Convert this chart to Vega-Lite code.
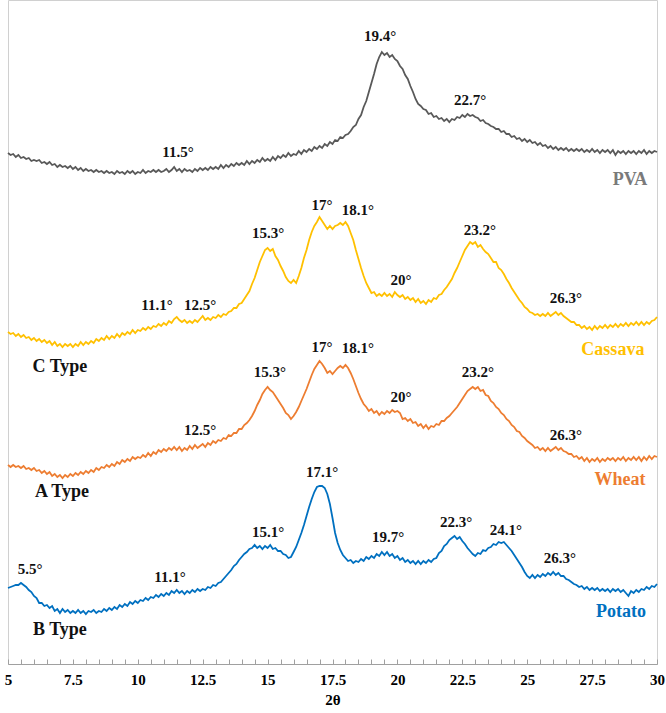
{
  "$schema": "https://vega.github.io/schema/vega-lite/v6.json",
  "width": 649,
  "height": 664,
  "autosize": {"type": "none"},
  "padding": {"left": 8, "top": 0, "right": 9, "bottom": 49},
  "background": "white",
  "config": {
    "view": {"stroke": "#d0d0d0", "strokeWidth": 1},
    "font": "Liberation Serif"
  },
  "datasets": {
    "xrd": [
      {"theta":5.0,"PVA":511,"Cassava":332,"Wheat":199,"Potato":76},
      {"theta":5.1,"PVA":509,"Cassava":330,"Wheat":197,"Potato":77},
      {"theta":5.2,"PVA":510,"Cassava":331,"Wheat":199,"Potato":78},
      {"theta":5.3,"PVA":507,"Cassava":328,"Wheat":197,"Potato":79},
      {"theta":5.4,"PVA":509,"Cassava":330,"Wheat":198,"Potato":79},
      {"theta":5.5,"PVA":506,"Cassava":327,"Wheat":196,"Potato":81},
      {"theta":5.6,"PVA":507,"Cassava":329,"Wheat":198,"Potato":79},
      {"theta":5.7,"PVA":505,"Cassava":326,"Wheat":195,"Potato":77},
      {"theta":5.8,"PVA":506,"Cassava":327,"Wheat":196,"Potato":74},
      {"theta":5.9,"PVA":503,"Cassava":324,"Wheat":194,"Potato":72},
      {"theta":6.0,"PVA":504,"Cassava":326,"Wheat":196,"Potato":68},
      {"theta":6.1,"PVA":503,"Cassava":323,"Wheat":193,"Potato":66},
      {"theta":6.2,"PVA":504,"Cassava":325,"Wheat":194,"Potato":61},
      {"theta":6.3,"PVA":501,"Cassava":322,"Wheat":191,"Potato":61},
      {"theta":6.4,"PVA":502,"Cassava":324,"Wheat":193,"Potato":58},
      {"theta":6.5,"PVA":500,"Cassava":321,"Wheat":190,"Potato":59},
      {"theta":6.6,"PVA":502,"Cassava":323,"Wheat":192,"Potato":56},
      {"theta":6.7,"PVA":499,"Cassava":319,"Wheat":188,"Potato":58},
      {"theta":6.8,"PVA":500,"Cassava":322,"Wheat":190,"Potato":53},
      {"theta":6.9,"PVA":497,"Cassava":318,"Wheat":187,"Potato":55},
      {"theta":7.0,"PVA":499,"Cassava":320,"Wheat":189,"Potato":51},
      {"theta":7.1,"PVA":497,"Cassava":317,"Wheat":186,"Potato":55},
      {"theta":7.2,"PVA":498,"Cassava":320,"Wheat":189,"Potato":52},
      {"theta":7.3,"PVA":496,"Cassava":318,"Wheat":187,"Potato":54},
      {"theta":7.4,"PVA":498,"Cassava":320,"Wheat":190,"Potato":51},
      {"theta":7.5,"PVA":495,"Cassava":317,"Wheat":188,"Potato":53},
      {"theta":7.6,"PVA":497,"Cassava":320,"Wheat":191,"Potato":51},
      {"theta":7.7,"PVA":494,"Cassava":318,"Wheat":189,"Potato":54},
      {"theta":7.8,"PVA":496,"Cassava":322,"Wheat":192,"Potato":51},
      {"theta":7.9,"PVA":493,"Cassava":319,"Wheat":190,"Potato":53},
      {"theta":8.0,"PVA":495,"Cassava":322,"Wheat":193,"Potato":50},
      {"theta":8.1,"PVA":493,"Cassava":320,"Wheat":191,"Potato":53},
      {"theta":8.2,"PVA":494,"Cassava":323,"Wheat":194,"Potato":52},
      {"theta":8.3,"PVA":492,"Cassava":321,"Wheat":192,"Potato":54},
      {"theta":8.4,"PVA":494,"Cassava":325,"Wheat":196,"Potato":51},
      {"theta":8.5,"PVA":492,"Cassava":323,"Wheat":194,"Potato":53},
      {"theta":8.6,"PVA":493,"Cassava":326,"Wheat":197,"Potato":52},
      {"theta":8.7,"PVA":491,"Cassava":324,"Wheat":196,"Potato":55},
      {"theta":8.8,"PVA":493,"Cassava":328,"Wheat":199,"Potato":53},
      {"theta":8.9,"PVA":491,"Cassava":325,"Wheat":197,"Potato":56},
      {"theta":9.0,"PVA":492,"Cassava":328,"Wheat":200,"Potato":54},
      {"theta":9.1,"PVA":490,"Cassava":326,"Wheat":198,"Potato":57},
      {"theta":9.2,"PVA":493,"Cassava":330,"Wheat":202,"Potato":55},
      {"theta":9.3,"PVA":491,"Cassava":327,"Wheat":200,"Potato":59},
      {"theta":9.4,"PVA":492,"Cassava":331,"Wheat":204,"Potato":57},
      {"theta":9.5,"PVA":490,"Cassava":329,"Wheat":202,"Potato":60},
      {"theta":9.6,"PVA":493,"Cassava":332,"Wheat":205,"Potato":58},
      {"theta":9.7,"PVA":491,"Cassava":330,"Wheat":203,"Potato":62},
      {"theta":9.8,"PVA":493,"Cassava":334,"Wheat":207,"Potato":60},
      {"theta":9.9,"PVA":490,"Cassava":331,"Wheat":205,"Potato":63},
      {"theta":10.0,"PVA":492,"Cassava":334,"Wheat":207,"Potato":61},
      {"theta":10.1,"PVA":491,"Cassava":333,"Wheat":206,"Potato":64},
      {"theta":10.2,"PVA":494,"Cassava":336,"Wheat":209,"Potato":63},
      {"theta":10.3,"PVA":491,"Cassava":334,"Wheat":207,"Potato":66},
      {"theta":10.4,"PVA":493,"Cassava":337,"Wheat":211,"Potato":64},
      {"theta":10.5,"PVA":492,"Cassava":335,"Wheat":208,"Potato":67},
      {"theta":10.6,"PVA":494,"Cassava":338,"Wheat":212,"Potato":66},
      {"theta":10.7,"PVA":492,"Cassava":337,"Wheat":210,"Potato":69},
      {"theta":10.8,"PVA":494,"Cassava":340,"Wheat":214,"Potato":67},
      {"theta":10.9,"PVA":492,"Cassava":338,"Wheat":212,"Potato":70},
      {"theta":11.0,"PVA":493,"Cassava":341,"Wheat":215,"Potato":68},
      {"theta":11.1,"PVA":495,"Cassava":339,"Wheat":213,"Potato":71},
      {"theta":11.2,"PVA":492,"Cassava":343,"Wheat":216,"Potato":69},
      {"theta":11.3,"PVA":494,"Cassava":341,"Wheat":214,"Potato":73},
      {"theta":11.4,"PVA":497,"Cassava":345,"Wheat":217,"Potato":71},
      {"theta":11.5,"PVA":493,"Cassava":347,"Wheat":214,"Potato":74},
      {"theta":11.6,"PVA":495,"Cassava":344,"Wheat":217,"Potato":71},
      {"theta":11.7,"PVA":492,"Cassava":342,"Wheat":213,"Potato":73},
      {"theta":11.8,"PVA":495,"Cassava":344,"Wheat":216,"Potato":70},
      {"theta":11.9,"PVA":493,"Cassava":341,"Wheat":214,"Potato":73},
      {"theta":12.0,"PVA":494,"Cassava":343,"Wheat":218,"Potato":71},
      {"theta":12.1,"PVA":492,"Cassava":341,"Wheat":215,"Potato":74},
      {"theta":12.2,"PVA":495,"Cassava":344,"Wheat":219,"Potato":72},
      {"theta":12.3,"PVA":493,"Cassava":342,"Wheat":216,"Potato":75},
      {"theta":12.4,"PVA":496,"Cassava":345,"Wheat":218,"Potato":73},
      {"theta":12.5,"PVA":494,"Cassava":348,"Wheat":220,"Potato":75},
      {"theta":12.6,"PVA":496,"Cassava":344,"Wheat":217,"Potato":74},
      {"theta":12.7,"PVA":494,"Cassava":346,"Wheat":221,"Potato":77},
      {"theta":12.8,"PVA":497,"Cassava":344,"Wheat":219,"Potato":76},
      {"theta":12.9,"PVA":495,"Cassava":347,"Wheat":223,"Potato":79},
      {"theta":13.0,"PVA":497,"Cassava":346,"Wheat":221,"Potato":78},
      {"theta":13.1,"PVA":495,"Cassava":349,"Wheat":224,"Potato":81},
      {"theta":13.2,"PVA":499,"Cassava":347,"Wheat":223,"Potato":82},
      {"theta":13.3,"PVA":496,"Cassava":350,"Wheat":226,"Potato":85},
      {"theta":13.4,"PVA":499,"Cassava":349,"Wheat":225,"Potato":88},
      {"theta":13.5,"PVA":497,"Cassava":352,"Wheat":229,"Potato":91},
      {"theta":13.6,"PVA":500,"Cassava":353,"Wheat":228,"Potato":94},
      {"theta":13.7,"PVA":498,"Cassava":356,"Wheat":231,"Potato":98},
      {"theta":13.8,"PVA":501,"Cassava":356,"Wheat":231,"Potato":100},
      {"theta":13.9,"PVA":499,"Cassava":360,"Wheat":235,"Potato":104},
      {"theta":14.0,"PVA":501,"Cassava":361,"Wheat":235,"Potato":107},
      {"theta":14.1,"PVA":499,"Cassava":365,"Wheat":239,"Potato":110},
      {"theta":14.2,"PVA":503,"Cassava":369,"Wheat":241,"Potato":112},
      {"theta":14.3,"PVA":500,"Cassava":373,"Wheat":244,"Potato":115},
      {"theta":14.4,"PVA":503,"Cassava":380,"Wheat":248,"Potato":116},
      {"theta":14.5,"PVA":501,"Cassava":386,"Wheat":253,"Potato":119},
      {"theta":14.6,"PVA":504,"Cassava":394,"Wheat":259,"Potato":116},
      {"theta":14.7,"PVA":502,"Cassava":402,"Wheat":264,"Potato":118},
      {"theta":14.8,"PVA":506,"Cassava":408,"Wheat":270,"Potato":115},
      {"theta":14.9,"PVA":503,"Cassava":414,"Wheat":274,"Potato":118},
      {"theta":15.0,"PVA":505,"Cassava":416,"Wheat":277,"Potato":116},
      {"theta":15.1,"PVA":503,"Cassava":413,"Wheat":274,"Potato":119},
      {"theta":15.2,"PVA":507,"Cassava":415,"Wheat":272,"Potato":115},
      {"theta":15.3,"PVA":504,"Cassava":408,"Wheat":268,"Potato":116},
      {"theta":15.4,"PVA":508,"Cassava":404,"Wheat":264,"Potato":113},
      {"theta":15.5,"PVA":506,"Cassava":398,"Wheat":260,"Potato":113},
      {"theta":15.6,"PVA":509,"Cassava":393,"Wheat":256,"Potato":110},
      {"theta":15.7,"PVA":507,"Cassava":387,"Wheat":251,"Potato":109},
      {"theta":15.8,"PVA":511,"Cassava":383,"Wheat":249,"Potato":106},
      {"theta":15.9,"PVA":508,"Cassava":381,"Wheat":245,"Potato":107},
      {"theta":16.0,"PVA":510,"Cassava":384,"Wheat":248,"Potato":112},
      {"theta":16.1,"PVA":509,"Cassava":381,"Wheat":252,"Potato":117},
      {"theta":16.2,"PVA":513,"Cassava":388,"Wheat":257,"Potato":124},
      {"theta":16.3,"PVA":510,"Cassava":396,"Wheat":263,"Potato":131},
      {"theta":16.4,"PVA":514,"Cassava":406,"Wheat":269,"Potato":139},
      {"theta":16.5,"PVA":512,"Cassava":414,"Wheat":275,"Potato":148},
      {"theta":16.6,"PVA":515,"Cassava":424,"Wheat":282,"Potato":157},
      {"theta":16.7,"PVA":513,"Cassava":432,"Wheat":289,"Potato":165},
      {"theta":16.8,"PVA":517,"Cassava":438,"Wheat":295,"Potato":172},
      {"theta":16.9,"PVA":515,"Cassava":442,"Wheat":299,"Potato":177},
      {"theta":17.0,"PVA":518,"Cassava":447,"Wheat":303,"Potato":178},
      {"theta":17.1,"PVA":516,"Cassava":443,"Wheat":300,"Potato":178},
      {"theta":17.2,"PVA":520,"Cassava":439,"Wheat":296,"Potato":176},
      {"theta":17.3,"PVA":518,"Cassava":435,"Wheat":291,"Potato":170},
      {"theta":17.4,"PVA":522,"Cassava":438,"Wheat":293,"Potato":160},
      {"theta":17.5,"PVA":520,"Cassava":435,"Wheat":290,"Potato":146},
      {"theta":17.6,"PVA":524,"Cassava":438,"Wheat":293,"Potato":131},
      {"theta":17.7,"PVA":523,"Cassava":439,"Wheat":296,"Potato":121},
      {"theta":17.8,"PVA":527,"Cassava":441,"Wheat":298,"Potato":114},
      {"theta":17.9,"PVA":526,"Cassava":439,"Wheat":296,"Potato":109},
      {"theta":18.0,"PVA":529,"Cassava":442,"Wheat":299,"Potato":106},
      {"theta":18.1,"PVA":530,"Cassava":438,"Wheat":296,"Potato":103},
      {"theta":18.2,"PVA":533,"Cassava":431,"Wheat":291,"Potato":104},
      {"theta":18.3,"PVA":537,"Cassava":424,"Wheat":285,"Potato":101},
      {"theta":18.4,"PVA":539,"Cassava":414,"Wheat":278,"Potato":103},
      {"theta":18.5,"PVA":545,"Cassava":405,"Wheat":271,"Potato":102},
      {"theta":18.6,"PVA":549,"Cassava":396,"Wheat":265,"Potato":105},
      {"theta":18.7,"PVA":557,"Cassava":388,"Wheat":260,"Potato":103},
      {"theta":18.8,"PVA":563,"Cassava":381,"Wheat":257,"Potato":107},
      {"theta":18.9,"PVA":572,"Cassava":376,"Wheat":253,"Potato":105},
      {"theta":19.0,"PVA":581,"Cassava":371,"Wheat":255,"Potato":108},
      {"theta":19.1,"PVA":590,"Cassava":372,"Wheat":251,"Potato":106},
      {"theta":19.2,"PVA":600,"Cassava":368,"Wheat":253,"Potato":110},
      {"theta":19.3,"PVA":607,"Cassava":370,"Wheat":249,"Potato":108},
      {"theta":19.4,"PVA":612,"Cassava":368,"Wheat":252,"Potato":112},
      {"theta":19.5,"PVA":609,"Cassava":371,"Wheat":250,"Potato":109},
      {"theta":19.6,"PVA":611,"Cassava":368,"Wheat":253,"Potato":112},
      {"theta":19.7,"PVA":607,"Cassava":370,"Wheat":251,"Potato":108},
      {"theta":19.8,"PVA":609,"Cassava":367,"Wheat":254,"Potato":110},
      {"theta":19.9,"PVA":605,"Cassava":372,"Wheat":252,"Potato":106},
      {"theta":20.0,"PVA":603,"Cassava":369,"Wheat":253,"Potato":108},
      {"theta":20.1,"PVA":598,"Cassava":367,"Wheat":251,"Potato":104},
      {"theta":20.2,"PVA":595,"Cassava":369,"Wheat":245,"Potato":106},
      {"theta":20.3,"PVA":589,"Cassava":365,"Wheat":246,"Potato":102},
      {"theta":20.4,"PVA":585,"Cassava":367,"Wheat":243,"Potato":104},
      {"theta":20.5,"PVA":578,"Cassava":364,"Wheat":245,"Potato":101},
      {"theta":20.6,"PVA":572,"Cassava":366,"Wheat":241,"Potato":103},
      {"theta":20.7,"PVA":565,"Cassava":362,"Wheat":242,"Potato":100},
      {"theta":20.8,"PVA":560,"Cassava":365,"Wheat":238,"Potato":103},
      {"theta":20.9,"PVA":558,"Cassava":361,"Wheat":240,"Potato":100},
      {"theta":21.0,"PVA":555,"Cassava":363,"Wheat":236,"Potato":103},
      {"theta":21.1,"PVA":554,"Cassava":360,"Wheat":239,"Potato":101},
      {"theta":21.2,"PVA":550,"Cassava":364,"Wheat":235,"Potato":104},
      {"theta":21.3,"PVA":551,"Cassava":362,"Wheat":238,"Potato":102},
      {"theta":21.4,"PVA":547,"Cassava":366,"Wheat":237,"Potato":105},
      {"theta":21.5,"PVA":548,"Cassava":365,"Wheat":240,"Potato":106},
      {"theta":21.6,"PVA":545,"Cassava":369,"Wheat":239,"Potato":111},
      {"theta":21.7,"PVA":546,"Cassava":370,"Wheat":243,"Potato":113},
      {"theta":21.8,"PVA":543,"Cassava":374,"Wheat":243,"Potato":118},
      {"theta":21.9,"PVA":545,"Cassava":377,"Wheat":246,"Potato":120},
      {"theta":22.0,"PVA":542,"Cassava":381,"Wheat":248,"Potato":124},
      {"theta":22.1,"PVA":545,"Cassava":385,"Wheat":251,"Potato":126},
      {"theta":22.2,"PVA":544,"Cassava":391,"Wheat":254,"Potato":128},
      {"theta":22.3,"PVA":547,"Cassava":396,"Wheat":257,"Potato":125},
      {"theta":22.4,"PVA":546,"Cassava":402,"Wheat":261,"Potato":127},
      {"theta":22.5,"PVA":549,"Cassava":408,"Wheat":265,"Potato":123},
      {"theta":22.6,"PVA":547,"Cassava":414,"Wheat":269,"Potato":120},
      {"theta":22.7,"PVA":550,"Cassava":418,"Wheat":273,"Potato":116},
      {"theta":22.8,"PVA":548,"Cassava":422,"Wheat":275,"Potato":113},
      {"theta":22.9,"PVA":549,"Cassava":420,"Wheat":277,"Potato":110},
      {"theta":23.0,"PVA":547,"Cassava":422,"Wheat":275,"Potato":108},
      {"theta":23.1,"PVA":546,"Cassava":417,"Wheat":277,"Potato":111},
      {"theta":23.2,"PVA":543,"Cassava":419,"Wheat":273,"Potato":110},
      {"theta":23.3,"PVA":544,"Cassava":415,"Wheat":274,"Potato":114},
      {"theta":23.4,"PVA":541,"Cassava":412,"Wheat":269,"Potato":113},
      {"theta":23.5,"PVA":540,"Cassava":410,"Wheat":268,"Potato":116},
      {"theta":23.6,"PVA":538,"Cassava":406,"Wheat":263,"Potato":117},
      {"theta":23.7,"PVA":537,"Cassava":402,"Wheat":261,"Potato":120},
      {"theta":23.8,"PVA":535,"Cassava":402,"Wheat":257,"Potato":119},
      {"theta":23.9,"PVA":535,"Cassava":396,"Wheat":255,"Potato":122},
      {"theta":24.0,"PVA":532,"Cassava":394,"Wheat":251,"Potato":121},
      {"theta":24.1,"PVA":533,"Cassava":390,"Wheat":249,"Potato":122},
      {"theta":24.2,"PVA":530,"Cassava":385,"Wheat":245,"Potato":119},
      {"theta":24.3,"PVA":530,"Cassava":381,"Wheat":243,"Potato":116},
      {"theta":24.4,"PVA":527,"Cassava":376,"Wheat":239,"Potato":113},
      {"theta":24.5,"PVA":528,"Cassava":372,"Wheat":237,"Potato":109},
      {"theta":24.6,"PVA":525,"Cassava":368,"Wheat":233,"Potato":105},
      {"theta":24.7,"PVA":526,"Cassava":364,"Wheat":232,"Potato":101},
      {"theta":24.8,"PVA":523,"Cassava":361,"Wheat":228,"Potato":97},
      {"theta":24.9,"PVA":525,"Cassava":357,"Wheat":226,"Potato":92},
      {"theta":25.0,"PVA":522,"Cassava":355,"Wheat":223,"Potato":88},
      {"theta":25.1,"PVA":524,"Cassava":352,"Wheat":221,"Potato":86},
      {"theta":25.2,"PVA":521,"Cassava":351,"Wheat":219,"Potato":89},
      {"theta":25.3,"PVA":522,"Cassava":349,"Wheat":216,"Potato":86},
      {"theta":25.4,"PVA":519,"Cassava":350,"Wheat":217,"Potato":89},
      {"theta":25.5,"PVA":521,"Cassava":348,"Wheat":214,"Potato":87},
      {"theta":25.6,"PVA":518,"Cassava":350,"Wheat":216,"Potato":90},
      {"theta":25.7,"PVA":519,"Cassava":348,"Wheat":213,"Potato":88},
      {"theta":25.8,"PVA":516,"Cassava":351,"Wheat":216,"Potato":91},
      {"theta":25.9,"PVA":518,"Cassava":348,"Wheat":213,"Potato":89},
      {"theta":26.0,"PVA":515,"Cassava":350,"Wheat":215,"Potato":92},
      {"theta":26.1,"PVA":517,"Cassava":352,"Wheat":217,"Potato":89},
      {"theta":26.2,"PVA":514,"Cassava":349,"Wheat":214,"Potato":91},
      {"theta":26.3,"PVA":516,"Cassava":351,"Wheat":216,"Potato":88},
      {"theta":26.4,"PVA":514,"Cassava":348,"Wheat":213,"Potato":88},
      {"theta":26.5,"PVA":516,"Cassava":346,"Wheat":212,"Potato":85},
      {"theta":26.6,"PVA":513,"Cassava":344,"Wheat":210,"Potato":84},
      {"theta":26.7,"PVA":515,"Cassava":342,"Wheat":210,"Potato":82},
      {"theta":26.8,"PVA":513,"Cassava":342,"Wheat":207,"Potato":80},
      {"theta":26.9,"PVA":515,"Cassava":339,"Wheat":208,"Potato":79},
      {"theta":27.0,"PVA":513,"Cassava":339,"Wheat":205,"Potato":77},
      {"theta":27.1,"PVA":515,"Cassava":336,"Wheat":207,"Potato":78},
      {"theta":27.2,"PVA":512,"Cassava":338,"Wheat":203,"Potato":75},
      {"theta":27.3,"PVA":514,"Cassava":335,"Wheat":206,"Potato":77},
      {"theta":27.4,"PVA":512,"Cassava":337,"Wheat":202,"Potato":74},
      {"theta":27.5,"PVA":515,"Cassava":334,"Wheat":205,"Potato":76},
      {"theta":27.6,"PVA":512,"Cassava":338,"Wheat":203,"Potato":74},
      {"theta":27.7,"PVA":514,"Cassava":335,"Wheat":206,"Potato":76},
      {"theta":27.8,"PVA":511,"Cassava":338,"Wheat":202,"Potato":73},
      {"theta":27.9,"PVA":514,"Cassava":336,"Wheat":205,"Potato":75},
      {"theta":28.0,"PVA":512,"Cassava":339,"Wheat":203,"Potato":73},
      {"theta":28.1,"PVA":514,"Cassava":336,"Wheat":206,"Potato":75},
      {"theta":28.2,"PVA":511,"Cassava":339,"Wheat":204,"Potato":72},
      {"theta":28.3,"PVA":514,"Cassava":337,"Wheat":206,"Potato":75},
      {"theta":28.4,"PVA":509,"Cassava":340,"Wheat":203,"Potato":73},
      {"theta":28.5,"PVA":513,"Cassava":337,"Wheat":206,"Potato":75},
      {"theta":28.6,"PVA":511,"Cassava":340,"Wheat":204,"Potato":72},
      {"theta":28.7,"PVA":513,"Cassava":338,"Wheat":207,"Potato":74},
      {"theta":28.8,"PVA":510,"Cassava":341,"Wheat":203,"Potato":71},
      {"theta":28.9,"PVA":513,"Cassava":338,"Wheat":206,"Potato":68},
      {"theta":29.0,"PVA":511,"Cassava":341,"Wheat":204,"Potato":73},
      {"theta":29.1,"PVA":513,"Cassava":339,"Wheat":207,"Potato":71},
      {"theta":29.2,"PVA":510,"Cassava":342,"Wheat":204,"Potato":74},
      {"theta":29.3,"PVA":513,"Cassava":339,"Wheat":207,"Potato":72},
      {"theta":29.4,"PVA":511,"Cassava":342,"Wheat":203,"Potato":75},
      {"theta":29.5,"PVA":514,"Cassava":339,"Wheat":207,"Potato":74},
      {"theta":29.6,"PVA":510,"Cassava":342,"Wheat":204,"Potato":77},
      {"theta":29.7,"PVA":513,"Cassava":340,"Wheat":208,"Potato":75},
      {"theta":29.8,"PVA":511,"Cassava":343,"Wheat":205,"Potato":78},
      {"theta":29.9,"PVA":513,"Cassava":344,"Wheat":208,"Potato":77},
      {"theta":30.0,"PVA":512,"Cassava":347,"Wheat":207,"Potato":80}
    ],
    "notes": [
      {"theta":11.55,"intensity":512,"text":"11.5°","kind":"peak","series":"PVA"},
      {"theta":19.33,"intensity":628,"text":"19.4°","kind":"peak","series":"PVA"},
      {"theta":22.8,"intensity":564,"text":"22.7°","kind":"peak","series":"PVA"},
      {"theta":28.96,"intensity":484,"text":"PVA","kind":"name","series":"PVA"},
      {"theta":10.74,"intensity":359,"text":"11.1°","kind":"peak","series":"Cassava"},
      {"theta":12.4,"intensity":359,"text":"12.5°","kind":"peak","series":"Cassava"},
      {"theta":15.02,"intensity":431,"text":"15.3°","kind":"peak","series":"Cassava"},
      {"theta":17.1,"intensity":459,"text":"17°","kind":"peak","series":"Cassava"},
      {"theta":18.48,"intensity":454,"text":"18.1°","kind":"peak","series":"Cassava"},
      {"theta":20.14,"intensity":384,"text":"20°","kind":"peak","series":"Cassava"},
      {"theta":23.18,"intensity":434,"text":"23.2°","kind":"peak","series":"Cassava"},
      {"theta":26.49,"intensity":366,"text":"26.3°","kind":"peak","series":"Cassava"},
      {"theta":28.3,"intensity":314,"text":"Cassava","kind":"name","series":"Cassava"},
      {"theta":7.0,"intensity":297,"text":"C Type","kind":"type","series":"Cassava"},
      {"theta":12.4,"intensity":234,"text":"12.5°","kind":"peak","series":"Wheat"},
      {"theta":15.09,"intensity":292,"text":"15.3°","kind":"peak","series":"Wheat"},
      {"theta":17.1,"intensity":317,"text":"17°","kind":"peak","series":"Wheat"},
      {"theta":18.48,"intensity":316,"text":"18.1°","kind":"peak","series":"Wheat"},
      {"theta":20.14,"intensity":267,"text":"20°","kind":"peak","series":"Wheat"},
      {"theta":23.1,"intensity":292,"text":"23.2°","kind":"peak","series":"Wheat"},
      {"theta":26.49,"intensity":229,"text":"26.3°","kind":"peak","series":"Wheat"},
      {"theta":28.57,"intensity":184,"text":"Wheat","kind":"name","series":"Wheat"},
      {"theta":7.08,"intensity":172,"text":"A Type","kind":"type","series":"Wheat"},
      {"theta":5.85,"intensity":95,"text":"5.5°","kind":"peak","series":"Potato"},
      {"theta":11.24,"intensity":87,"text":"11.1°","kind":"peak","series":"Potato"},
      {"theta":15.02,"intensity":132,"text":"15.1°","kind":"peak","series":"Potato"},
      {"theta":17.1,"intensity":192,"text":"17.1°","kind":"peak","series":"Potato"},
      {"theta":19.64,"intensity":127,"text":"19.7°","kind":"peak","series":"Potato"},
      {"theta":22.26,"intensity":142,"text":"22.3°","kind":"peak","series":"Potato"},
      {"theta":24.18,"intensity":134,"text":"24.1°","kind":"peak","series":"Potato"},
      {"theta":26.26,"intensity":106,"text":"26.3°","kind":"peak","series":"Potato"},
      {"theta":28.61,"intensity":52,"text":"Potato","kind":"name","series":"Potato"},
      {"theta":7.0,"intensity":34,"text":"B Type","kind":"type","series":"Potato"}
    ]
  },
  "encoding": {
    "x": {
      "field": "theta", "type": "quantitative",
      "scale": {"domain": [5, 30], "nice": false, "zero": false},
      "axis": {
        "values": [5,5.5,6,6.5,7,7.5,8,8.5,9,9.5,10,10.5,11,11.5,12,12.5,13,13.5,14,14.5,15,15.5,16,16.5,17,17.5,18,18.5,19,19.5,20,20.5,21,21.5,22,22.5,23,23.5,24,24.5,25,25.5,26,26.5,27,27.5,28,28.5,29,29.5,30],
        "format": "~g",
        "labelExpr": "datum.value % 2.5 === 0 ? datum.label : ''",
        "labelOverlap": false,
        "labelFlush": false,
        "grid": false,
        "domainColor": "#a0a0a0",
        "tickColor": "#a0a0a0",
        "tickSize": -5,
        "labelPadding": 13,
        "labelFont": "Liberation Serif",
        "labelFontSize": 15,
        "labelFontWeight": "bold",
        "labelColor": "#000000",
        "title": "2θ",
        "titleFont": "Liberation Serif",
        "titleFontSize": 15,
        "titleFontWeight": "bold",
        "titleColor": "#000000",
        "titlePadding": 5
      }
    },
    "y": {
      "field": "intensity", "type": "quantitative",
      "scale": {"domain": [0, 664], "nice": false, "zero": false},
      "axis": null
    }
  },
  "resolve": {"scale": {"color": "independent"}},
  "layer": [
    {
      "data": {"name": "xrd"},
      "transform": [{"fold": ["PVA", "Cassava", "Wheat", "Potato"], "as": ["series", "intensity"]}],
      "mark": {"type": "line", "strokeWidth": 1.8, "interpolate": "linear"},
      "encoding": {
        "color": {
          "field": "series", "type": "nominal",
          "scale": {"domain": ["PVA", "Cassava", "Wheat", "Potato"], "range": ["#595959", "#FFC000", "#ED7D31", "#0070C0"]},
          "legend": null
        }
      }
    },
    {
      "data": {"name": "notes"},
      "transform": [{"filter": "datum.kind === 'peak'"}],
      "mark": {"type": "text", "font": "Liberation Serif", "fontSize": 15, "fontWeight": "bold", "color": "#111111", "align": "center", "baseline": "middle"},
      "encoding": {
        "text": {"field": "text", "type": "nominal"}
      }
    },
    {
      "data": {"name": "notes"},
      "transform": [{"filter": "datum.kind === 'type'"}],
      "mark": {"type": "text", "font": "Liberation Serif", "fontSize": 18, "fontWeight": "bold", "color": "#111111", "align": "center", "baseline": "middle"},
      "encoding": {
        "text": {"field": "text", "type": "nominal"}
      }
    },
    {
      "data": {"name": "notes"},
      "transform": [{"filter": "datum.kind === 'name'"}],
      "mark": {"type": "text", "font": "Liberation Serif", "fontSize": 18, "fontWeight": "bold", "align": "center", "baseline": "middle"},
      "encoding": {
        "text": {"field": "text", "type": "nominal"},
        "color": {
          "field": "series", "type": "nominal",
          "scale": {"domain": ["PVA", "Cassava", "Wheat", "Potato"], "range": ["#7a7a7a", "#FFC000", "#ED7D31", "#0070C0"]},
          "legend": null
        }
      }
    }
  ]
}
